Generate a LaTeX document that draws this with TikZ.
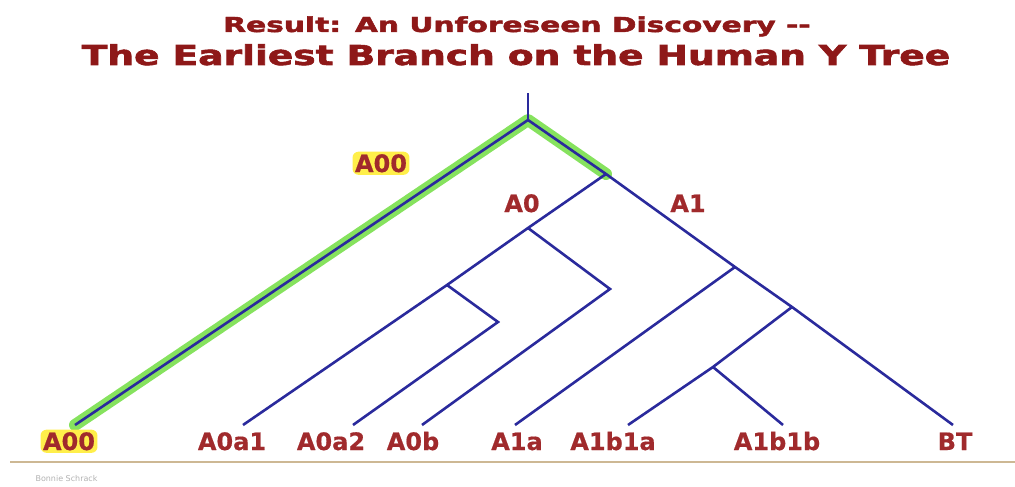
\documentclass[tikz,border=0pt]{standalone}
\usepackage{fontspec}
\setmainfont{DejaVu Sans}
\newfontfamily\headingfont[FakeBold=2]{DejaVu Sans Bold}
\newfontfamily\cladefont[FakeBold=0.6]{DejaVu Sans Bold}
\usepackage{graphicx}
\usetikzlibrary{positioning}
\definecolor{titlered}{HTML}{8E1818}
\definecolor{labelred}{HTML}{A02A2C}
\definecolor{treeblue}{HTML}{2A2A9C}
\definecolor{hlgreen}{HTML}{86E25E}
\definecolor{hlyellow}{HTML}{FFEF4A}
\definecolor{rulebrown}{HTML}{CDB894}

\begin{document}
\begin{tikzpicture}[
    x=1pt, y=-1pt,
    heading/.style={text=titlered, font=\headingfont\fontsize{#1}{#1}\selectfont, inner sep=0pt, anchor=base},
    clade/.style={text=labelred, font=\cladefont\fontsize{24}{24}\selectfont, inner sep=1pt, anchor=base},
    oldest/.style={clade, fill=hlyellow, rounded corners=6pt, inner sep=2.5pt},
    branch/.style={draw=treeblue, line width=2.6pt},
    glow/.style={draw=hlgreen, line width=12pt, line cap=round, line join=round}
]
    \useasboundingbox (0,0) rectangle (1015,487);

    % title
    \node[heading=20.6] (result) at (517,32) {\scalebox{1.44}[1]{Result: An Unforeseen Discovery -{}-}};
    \node[heading=27.4] (earliest) at (516,65) {\scalebox{1.37}[1]{The Earliest Branch on the Human Y Tree}};

    % junctions of the tree
    \coordinate (top) at (528,93);
    \coordinate (root) at (528,120);
    \coordinate (split) at (606,174);
    \coordinate (a0) at (528,228);
    \coordinate (a0a) at (447,285);
    \coordinate (a0aturn) at (498,322);
    \coordinate (a0turn) at (610,289);
    \coordinate (a1) at (735,267);
    \coordinate (a1b) at (792,307);
    \coordinate (a1b1) at (713,367);

    % tips
    \coordinate (a00end) at (75,425);
    \coordinate (a0a1end) at (243,425);
    \coordinate (a0a2end) at (353,425);
    \coordinate (a0bend) at (422,425);
    \coordinate (a1aend) at (515,425);
    \coordinate (a1b1aend) at (628,425);
    \coordinate (a1b1bend) at (783,425);
    \coordinate (btend) at (953,425);

    % highlighted A00 lineage
    \draw[glow] (a00end) -- (root) -- (split);

    \draw[branch] (top) -- (root);
    \draw[branch] (root) -- (a00end);
    \draw[branch] (root) -- (split) -- (a1) -- (a1b) -- (btend);
    \draw[branch] (split) -- (a0) -- (a0a) -- (a0a1end);
    \draw[branch] (a0a) -- (a0aturn) -- (a0a2end);
    \draw[branch] (a0) -- (a0turn) -- (a0bend);
    \draw[branch] (a1) -- (a1aend);
    \draw[branch] (a1b) -- (a1b1) -- (a1b1aend);
    \draw[branch] (a1b1) -- (a1b1bend);

    % clade labels
    \node[oldest] (A00top) at (381,172) {A00};
    \node[clade] (A0) at (522,212) {A0};
    \node[clade] (A1) at (688,212) {A1};

    \node[oldest] (A00) at (69,450) {A00};
    \node[clade] (A0a1) at (232,450) {A0a1};
    \node[clade] (A0a2) at (331,450) {A0a2};
    \node[clade] (A0b) at (413,450) {A0b};
    \node[clade] (A1a) at (517,450) {A1a};
    \node[clade] (A1b1a) at (613,450) {A1b1a};
    \node[clade] (A1b1b) at (777,450) {A1b1b};
    \node[clade] (BT) at (955,450) {BT};

    % footer
    \coordinate (ruleleft) at (10,462);
    \coordinate (ruleright) at (1015,462);
    \draw[rulebrown, line width=2.5pt] (ruleleft) -- (ruleright);
    \node[text=black!30, font=\fontsize{8}{8}\selectfont, anchor=base west] (credit) at (32,481) {Bonnie Schrack};
\end{tikzpicture}
\end{document}
